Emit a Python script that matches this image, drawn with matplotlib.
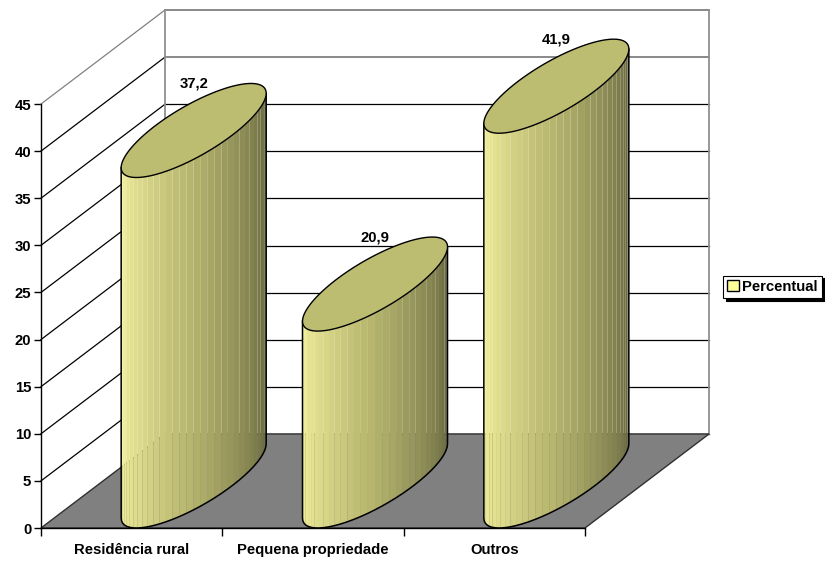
import numpy as np
import matplotlib
matplotlib.use("Agg")
import matplotlib.pyplot as plt
from matplotlib.colors import LinearSegmentedColormap
from matplotlib.patches import Patch, Polygon

plt.rcParams["font.family"] = ["Liberation Sans", "DejaVu Sans"]
plt.rcParams["font.weight"] = "bold"
plt.rcParams["font.size"] = 10.7

categories = ["Residência rural", "Pequena propriedade", "Outros"]
values = [37.2, 20.9, 41.9]
value_labels = ["37,2", "20,9", "41,9"]
y_ticks = [0, 5, 10, 15, 20, 25, 30, 35, 40, 45]
legend_label = "Percentual"

W, H = 825, 563
LEFT, RIGHT, BOTTOM, TOP = 41, 585, 528, 104

# oblique projection: how far the back of the box is shifted, in data units
DEPTH_X = 0.684
DEPTH_Y = 9.98
# ellipse half axes of the bar section (category units / value units)
ELL_UX = 0.245
ELL_VX = 0.316
ELL_VY = DEPTH_Y / 2
N_STRIPS = 32

fig = plt.figure(figsize=(W / 100, H / 100), dpi=100)
ax = fig.add_axes([LEFT / W, 1 - BOTTOM / H, (RIGHT - LEFT) / W, (BOTTOM - TOP) / H])
ax.set_xlim(0, len(categories))
ax.set_ylim(0, y_ticks[-1])
ax.patch.set_visible(False)

n = len(categories)
ymax = y_ticks[-1]

# walls and gridlines
for v in y_ticks:
    color = "#808080" if v >= 40 else "black"
    lw = 1.3 if v >= 40 else 0.9
    if v > 0:
        ax.plot([0, DEPTH_X], [v, v + DEPTH_Y], color="#808080" if v == 45 else "black",
                lw=0.9, clip_on=False, zorder=2)
    ax.plot([DEPTH_X, n + DEPTH_X], [v + DEPTH_Y, v + DEPTH_Y], color=color, lw=lw,
            clip_on=False, zorder=2)
for x in [DEPTH_X, n + DEPTH_X]:
    ax.plot([x, x], [DEPTH_Y, ymax + DEPTH_Y], color="#909090", lw=1.3,
            clip_on=False, zorder=2)

cmap = LinearSegmentedColormap.from_list(
    "bar", ["#f6f49a", "#d8d688", "#b4b36c", "#8c8b55", "#62623c"])

ts = np.linspace(0, 2 * np.pi, 200)
for i, val in enumerate(values):
    cx = i + 0.5 + DEPTH_X / 2
    cy = DEPTH_Y / 2

    # front arc of the base, from leftmost to rightmost point of the ellipse
    t_ext = np.arctan2(ELL_VX, ELL_UX)
    t_arc = np.linspace(t_ext - np.pi, t_ext, N_STRIPS + 1)
    ax_x = cx + ELL_UX * np.cos(t_arc) + ELL_VX * np.sin(t_arc)
    ax_y = cy + ELL_VY * np.sin(t_arc)

    # white backing hides the gridlines behind the seams between strips
    back = np.r_[np.c_[ax_x, ax_y], np.c_[ax_x, ax_y + val][::-1]]
    ax.add_patch(Polygon(back, closed=True, facecolor="white", edgecolor="none",
                         clip_on=False, zorder=2.5))

    for k in range(N_STRIPS):
        quad = [(ax_x[k], ax_y[k]), (ax_x[k + 1], ax_y[k + 1]),
                (ax_x[k + 1], ax_y[k + 1] + val), (ax_x[k], ax_y[k] + val)]
        ax.add_patch(Polygon(quad, closed=True, facecolor=cmap(k / (N_STRIPS - 1)),
                             edgecolor="none", clip_on=False, zorder=3))

    # outline of the side
    ox = np.r_[ax_x[0], ax_x, ax_x[-1]]
    oy = np.r_[ax_y[0] + val, ax_y, ax_y[-1] + val]
    ax.plot(ox, oy, color="black", lw=1.1, clip_on=False, zorder=4)

    # top cap
    ex = cx + ELL_UX * np.cos(ts) + ELL_VX * np.sin(ts)
    ey = cy + ELL_VY * np.sin(ts) + val
    ax.add_patch(Polygon(np.c_[ex, ey], closed=True, facecolor="#bdbd72",
                         edgecolor="black", lw=1, clip_on=False, zorder=5))

    ax.text(cx, val + DEPTH_Y, value_labels[i], ha="center", va="center",
            clip_on=False, zorder=6)

# floor goes over the backing so the seams read grey down there
ax.add_patch(Polygon([(0, 0), (DEPTH_X, DEPTH_Y), (n + DEPTH_X, DEPTH_Y), (n, 0)],
                     closed=True, facecolor="#808080", edgecolor="#303030",
                     lw=1, clip_on=False, zorder=2.6))

# axes
for side in ["top", "right"]:
    ax.spines[side].set_visible(False)
ax.spines["left"].set_linewidth(1)
ax.spines["bottom"].set_linewidth(1)
ax.spines["left"].set_zorder(2.7)
ax.spines["bottom"].set_zorder(2.7)
ax.set_yticks(y_ticks)
ax.set_xticks(range(n + 1))
ax.set_xticklabels([])
ax.set_xticks([i + 0.5 for i in range(n)], minor=True)
ax.set_xticklabels(categories, minor=True)
ax.tick_params(axis="x", which="minor", length=0, pad=11)
ax.tick_params(axis="x", which="major", length=6, width=1)
ax.tick_params(axis="y", which="major", length=5, width=1, pad=2)

leg = ax.legend(handles=[Patch(facecolor="#ffff99", edgecolor="black", label=legend_label)],
                loc="center left", bbox_to_anchor=(723 / W, 1 - 287 / H),
                bbox_transform=fig.transFigure, fancybox=False,
                shadow={"color": "black", "alpha": 1, "ox": 2, "oy": -2},
                framealpha=1, edgecolor="black", borderaxespad=0, borderpad=0.3,
                handlelength=0.75, handleheight=0.75, handletextpad=0.25)
leg.get_frame().set_linewidth(0.8)

fig.savefig("out.png", dpi=100)
